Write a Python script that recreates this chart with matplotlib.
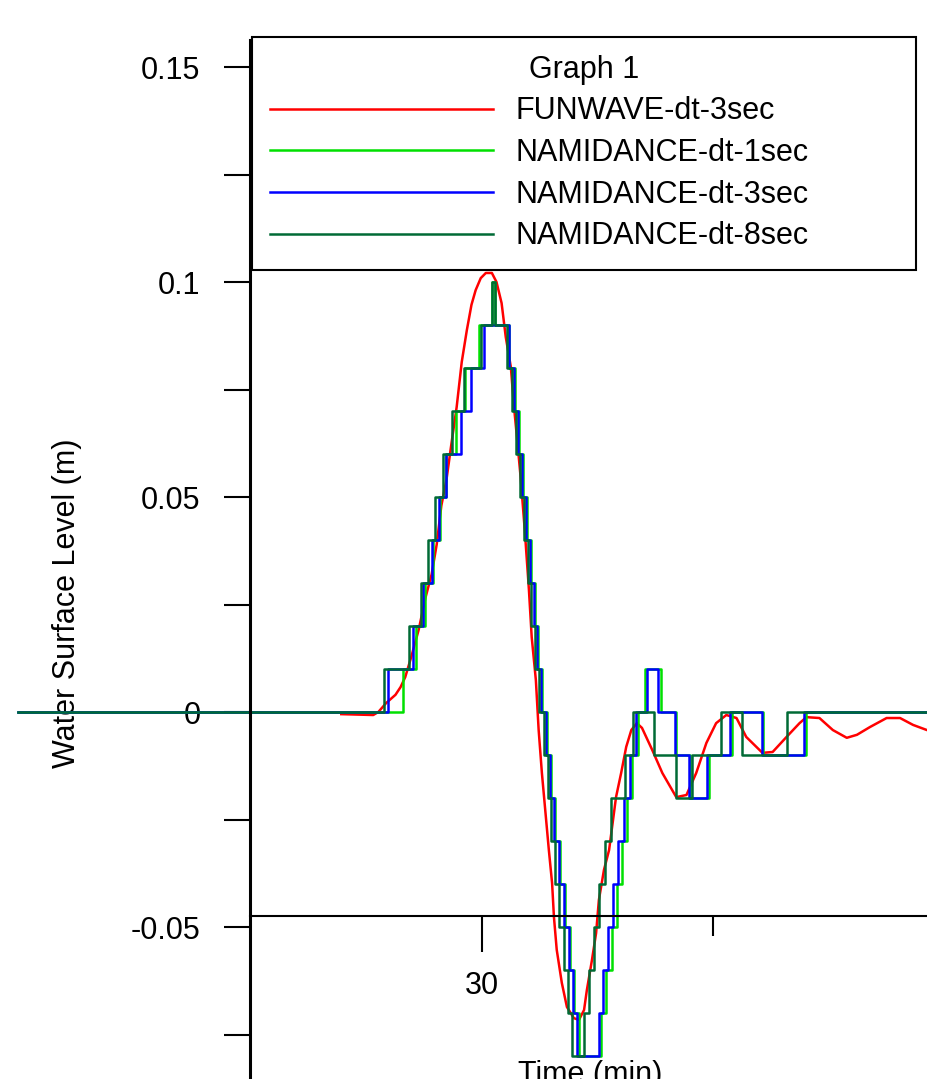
import matplotlib
matplotlib.use("Agg")
import matplotlib.pyplot as plt

# FUNWAVE-dt-3sec (smooth curve), time in minutes, level in metres
red_t = [26.97, 27.66, 27.77, 27.94, 28.14, 28.25, 28.35, 28.48, 28.64, 28.79, 28.92, 29.03, 29.13,
         29.24, 29.35, 29.46, 29.57, 29.68, 29.78, 29.87, 29.98, 30.09, 30.22, 30.32, 30.43, 30.52,
         30.63, 30.69, 30.76, 30.84, 30.93, 31.02, 31.08, 31.17, 31.23, 31.30, 31.45, 31.52, 31.56,
         31.62, 31.73, 31.84, 31.99, 32.10, 32.21, 32.27, 32.38, 32.47, 32.53, 32.64, 32.75, 32.90,
         33.01, 33.12, 33.23, 33.35, 33.46, 33.68, 33.90, 34.20, 34.42, 34.63, 34.85, 35.06, 35.28,
         35.50, 35.71, 36.06, 36.28, 36.58, 36.86, 37.01, 37.29, 37.58, 37.88, 38.10, 38.38, 38.74,
         39.03, 39.31, 39.61, 39.9]
red_v = [-0.0005, -0.0007, 0.0, 0.0021, 0.0040, 0.0058, 0.0081, 0.0128, 0.0191, 0.0267, 0.032, 0.039,
         0.048, 0.054, 0.0626, 0.0709, 0.0814, 0.0888, 0.0947, 0.0981, 0.1009, 0.1021, 0.1021, 0.1000,
         0.0951, 0.0872, 0.0802, 0.0719, 0.0640, 0.0547, 0.0423, 0.0284, 0.0174, 0.0074, -0.0042,
         -0.0142, -0.0321, -0.0398, -0.0477, -0.0553, -0.0630, -0.0686, -0.0712, -0.0716, -0.0693,
         -0.0647, -0.0577, -0.0514, -0.0437, -0.0367, -0.0321, -0.0198, -0.0142, -0.0081, -0.0042,
         -0.0026, -0.0037, -0.0088, -0.0142, -0.0198, -0.0193, -0.0142, -0.0072, -0.0026, -0.0007,
         -0.0014, -0.0058, -0.0095, -0.0093, -0.0058, -0.0026, -0.0012, -0.0014, -0.0042, -0.0060,
         -0.0053, -0.0035, -0.0014, -0.0014, -0.0030, -0.0042, -0.0045]

# NAMIDANCE-dt-1sec (step series: time where the level changes, new level)
lg_t = [20.0, 28.31, 28.59, 28.77, 28.94, 29.09, 29.24, 29.44, 29.63, 29.94, 30.22, 30.28, 30.58,
        30.71, 30.80, 30.89, 30.97, 31.06, 31.15, 31.21, 31.30, 31.41, 31.49, 31.58, 31.69, 31.80,
        31.90, 31.99, 32.10, 32.58, 32.69, 32.82, 32.92, 33.03, 33.14, 33.25, 33.38, 33.53, 33.88,
        34.20, 34.50, 34.91, 35.41, 36.08, 36.99, 42.0]
lg_v = [0.0, 0.01, 0.02, 0.03, 0.04, 0.05, 0.06, 0.07, 0.08, 0.09, 0.10, 0.09, 0.08, 0.07, 0.06,
        0.05, 0.04, 0.03, 0.02, 0.01, 0.0, -0.01, -0.02, -0.03, -0.04, -0.05, -0.06, -0.07, -0.08,
        -0.07, -0.06, -0.05, -0.04, -0.03, -0.02, -0.01, 0.0, 0.01, 0.0, -0.01, -0.02, -0.01, 0.0,
        -0.01, 0.0, 0.0]

# NAMIDANCE-dt-3sec
bl_t = [20.0, 27.97, 28.51, 28.74, 28.92, 29.07, 29.24, 29.55, 29.76, 30.04, 30.58, 30.69, 30.78,
        30.87, 30.95, 31.04, 31.13, 31.19, 31.28, 31.39, 31.47, 31.56, 31.67, 31.77, 31.88, 31.97,
        32.06, 32.53, 32.62, 32.73, 32.84, 32.94, 33.07, 33.20, 33.33, 33.57, 33.81, 34.17, 34.48,
        34.87, 35.37, 36.04, 36.95, 42.0]
bl_v = [0.0, 0.01, 0.02, 0.03, 0.04, 0.05, 0.06, 0.07, 0.08, 0.09, 0.08, 0.07, 0.06, 0.05, 0.04,
        0.03, 0.02, 0.01, 0.0, -0.01, -0.02, -0.03, -0.04, -0.05, -0.06, -0.07, -0.08, -0.07, -0.06,
        -0.05, -0.04, -0.03, -0.02, -0.01, 0.0, 0.01, 0.0, -0.01, -0.02, -0.01, 0.0, -0.01, 0.0, 0.0]

# NAMIDANCE-dt-8sec
dg_t = [20.0, 27.90, 28.44, 28.70, 28.85, 29.00, 29.16, 29.37, 29.61, 29.98, 30.22, 30.28, 30.54,
        30.65, 30.74, 30.82, 30.91, 31.00, 31.06, 31.15, 31.23, 31.34, 31.43, 31.49, 31.58, 31.67,
        31.77, 31.86, 31.95, 32.21, 32.32, 32.42, 32.53, 32.66, 32.79, 33.10, 33.27, 33.72, 34.20,
        34.55, 35.17, 35.61, 36.60, 42.0]
dg_v = [0.0, 0.01, 0.02, 0.03, 0.04, 0.05, 0.06, 0.07, 0.08, 0.09, 0.10, 0.09, 0.08, 0.07, 0.06,
        0.05, 0.04, 0.03, 0.02, 0.01, 0.0, -0.01, -0.02, -0.03, -0.04, -0.05, -0.06, -0.07, -0.08,
        -0.07, -0.06, -0.05, -0.04, -0.03, -0.02, -0.01, 0.0, -0.01, -0.02, -0.01, 0.0, -0.01, 0.0, 0.0]

labels = ["FUNWAVE-dt-3sec", "NAMIDANCE-dt-1sec", "NAMIDANCE-dt-3sec", "NAMIDANCE-dt-8sec"]
colors = ["#ff0000", "#00e000", "#0000ff", "#006a35"]

y_ticks = [-0.05, 0, 0.05, 0.1, 0.15]
y_ticklabels = ["-0.05", "0", "0.05", "0.1", "0.15"]
y_minor = [-0.075, -0.025, 0.025, 0.075, 0.125]

plt.rcParams['font.family'] = ['Liberation Sans', 'DejaVu Sans']

W, H = 927, 1079
fig = plt.figure(figsize=(W / 100, H / 100), dpi=100)
fig.patch.set_facecolor("white")

# axes run off the bottom and right edge of the picture (it is a cropped screenshot)
ax = fig.add_axes([250 / W, (H - 1142) / H, 695 / W, 1102 / H])
ax.set_xlim(25, 40)
ax.set_ylim(-0.1, 0.15628)

lw = 1.8
ax.plot(red_t, red_v, color=colors[0], lw=lw, label=labels[0], clip_on=False)
ax.step(lg_t, lg_v, where="post", color=colors[1], lw=lw, label=labels[1], clip_on=False)
ax.step(bl_t, bl_v, where="post", color=colors[2], lw=lw, label=labels[2], clip_on=False)
ax.step(dg_t, dg_v, where="post", color=colors[3], lw=lw, label=labels[3], clip_on=False)

# spines: y axis on the left, x axis crossing a little below -0.045
ax.spines["top"].set_visible(False)
ax.spines["right"].set_visible(False)
ax.spines["left"].set_linewidth(2.2)
ax.spines["bottom"].set_linewidth(1.5)
ax.spines["bottom"].set_position(("data", -0.0474))

ax.set_xticks([30, 40])
ax.set_xticks([35], minor=True)
ax.set_yticks(y_ticks)
ax.set_yticklabels(y_ticklabels)
ax.set_yticks(y_minor, minor=True)
ax.tick_params(axis="y", which="both", direction="out", length=18.7, width=1.5, pad=17, labelsize=22)
ax.tick_params(axis="x", which="major", direction="out", length=26, width=1.5, pad=14, labelsize=22)
ax.tick_params(axis="x", which="minor", direction="out", length=14.4, width=1.5)

ax.set_xlabel("Time (min)", fontsize=22)
ax.xaxis.set_label_coords((590 - 250) / 695, (1142 - 1075) / 1102)
ax.xaxis.label.set_va("center")
ax.set_ylabel("Water Surface Level (m)", fontsize=22)
ax.yaxis.set_label_coords((67 - 250) / 695, (1142 - 603) / 1102)
ax.yaxis.label.set_va("center")

# legend box pinned to the screenshot position
leg = ax.legend(title="Graph 1", loc="upper left",
                bbox_to_anchor=(252 / W, 1 - 263 / H, (916 - 252) / W, (263 - 37) / H),
                bbox_transform=fig.transFigure, mode="expand", borderaxespad=0,
                fontsize=22, title_fontsize=22, fancybox=False, framealpha=1,
                edgecolor="black", borderpad=0.6, labelspacing=0.38,
                handlelength=7.3, handletextpad=0.72)
leg.get_frame().set_linewidth(1.5)
leg._legend_box.sep = 8

fig.savefig("out.png", dpi=100)
